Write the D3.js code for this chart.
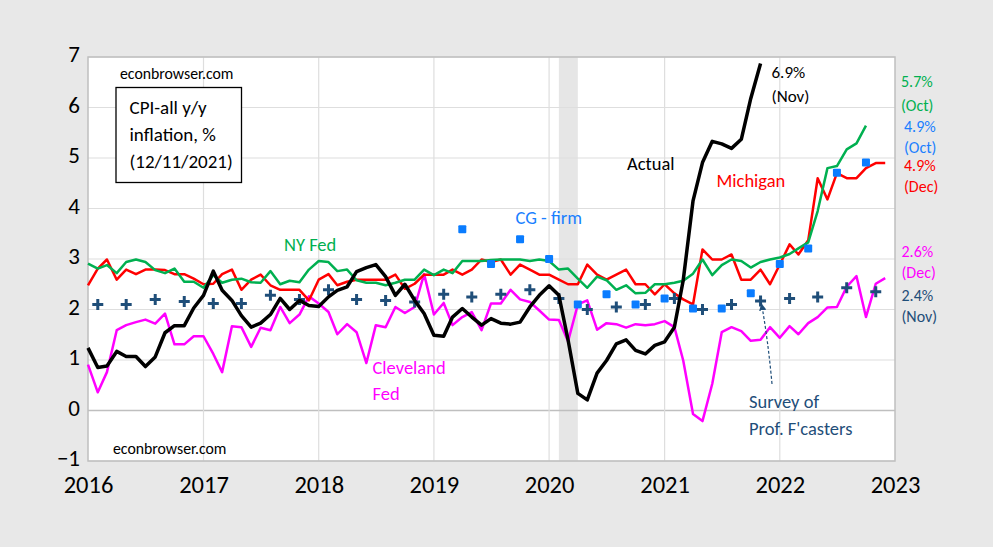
<!DOCTYPE html>
<html><head><meta charset="utf-8">
<script src="https://cdn.jsdelivr.net/npm/d3@7"></script>
<style>
body{margin:0;background:#e8e8e8;}
svg{display:block;font-family:Carlito, Lato, "Open Sans", sans-serif;}
</style>
</head><body>
<svg id="chart" width="993" height="547"></svg>
<script>
// ---- data (monthly, index 0 = Jan 2016) ----
const actual = [1.24,0.85,0.88,1.17,1.07,1.07,0.87,1.06,1.54,1.68,1.68,2.03,
 2.28,2.76,2.38,2.18,1.88,1.65,1.73,1.90,2.22,2.00,2.18,2.08,
 2.06,2.25,2.38,2.45,2.75,2.83,2.89,2.65,2.28,2.50,2.18,1.92,
 1.49,1.47,1.85,2.02,1.85,1.69,1.82,1.73,1.71,1.75,2.05,2.28,
 2.47,2.28,1.40,0.34,0.21,0.74,0.99,1.32,1.40,1.19,1.12,1.29,
 1.36,1.65,2.58,4.15,4.91,5.33,5.28,5.19,5.37,6.18,6.87];
const michigan = [2.48,2.81,2.99,2.59,2.79,2.70,2.79,2.79,2.78,2.70,2.70,2.61,
 2.50,2.51,2.70,2.79,2.39,2.59,2.69,2.48,2.39,2.39,2.39,2.18,
 2.59,2.70,2.48,2.55,2.59,2.59,2.59,2.59,2.69,2.41,2.51,2.69,
 2.69,2.69,2.79,2.69,2.79,2.99,2.94,2.99,2.69,2.89,2.79,2.69,
 2.69,2.59,2.50,2.50,2.89,2.69,2.59,2.69,2.79,2.50,2.50,2.30,
 2.50,2.32,2.20,2.10,3.19,2.99,2.99,3.09,2.59,2.59,2.79,2.50,
 2.89,3.29,3.09,3.37,4.60,4.18,4.70,4.60,4.60,4.80,4.90,4.90];
const nyFed = [2.91,2.81,2.88,2.72,2.94,2.99,2.94,2.78,2.72,2.81,2.55,2.55,
 2.43,2.68,2.53,2.59,2.61,2.54,2.53,2.76,2.50,2.57,2.54,2.79,
 2.96,2.94,2.76,2.79,2.58,2.53,2.53,2.48,2.53,2.59,2.59,2.79,
 2.68,2.79,2.72,2.96,2.96,2.96,2.98,2.99,2.99,2.99,2.96,2.99,
 2.96,2.79,2.81,2.61,2.43,2.65,2.58,2.39,2.48,2.32,2.33,2.50,
 2.50,2.53,2.57,2.71,2.99,2.68,2.88,2.99,2.96,2.83,2.94,2.99,
 3.03,3.10,3.21,3.33,3.95,4.80,4.84,5.17,5.29,5.64];
const cleveland = [0.91,0.36,0.76,1.59,1.69,1.75,1.80,1.72,1.92,1.31,1.31,1.47,
 1.47,1.12,0.76,1.67,1.65,1.26,1.64,1.59,2.05,1.73,1.90,2.26,
 2.12,1.95,1.51,1.71,1.55,0.94,1.69,1.65,2.05,1.93,2.05,2.70,
 1.90,2.13,1.69,1.85,1.95,1.59,2.12,2.12,2.39,2.20,2.15,1.98,
 1.80,1.79,1.37,2.10,2.18,1.60,1.73,1.71,1.64,1.71,1.69,1.71,
 1.77,1.65,0.99,-0.07,-0.21,0.53,1.55,1.65,1.57,1.38,1.40,1.65,
 1.44,1.67,1.51,1.73,1.85,2.04,2.05,2.45,2.66,1.85,2.51,2.62];
const spfMonths = [1,4,7,10,13,16,19,22,25,28,31,34,37,40,43,46,49,52,55,58,61,64,67,70,73,76,79,82];
const spfValues = [2.10,2.10,2.20,2.16,2.12,2.12,2.28,2.20,2.39,2.20,2.18,2.15,2.30,2.25,2.30,2.39,2.22,2.00,2.05,2.10,2.22,2.00,2.10,2.17,2.22,2.25,2.43,2.35];
const cgMonths = [39,42,45,48,51,54,57,60,63,66,69,72,75,78,81];
const cgValues = [3.59,2.90,3.39,3.00,2.10,2.30,2.10,2.22,2.02,2.02,2.32,2.90,3.21,4.71,4.91];
const yearTicks = [2016,2017,2018,2019,2020,2021,2022,2023];
const yTicks = [-1,0,1,2,3,4,5,6,7];
const recession = [new Date(2020,1,1), new Date(2020,3,1)];

const monthDate = i => new Date(2016, i, 1);

const svg = d3.select("#chart");
const L = 88, R = 895, T = 57, B = 461;
const x = d3.scaleTime().domain([new Date(2016,0,1), new Date(2023,0,1)]).range([L, R]);
const y = d3.scaleLinear().domain([-1, 7]).range([B, T]);

// background
svg.append("rect").attr("width",993).attr("height",547).attr("fill","#e8e8e8");
svg.append("rect").attr("x",L).attr("y",T).attr("width",R-L).attr("height",B-T).attr("fill","#fff");

// recession shading
svg.append("rect").attr("x",x(recession[0])).attr("y",T)
  .attr("width",x(recession[1])-x(recession[0])).attr("height",B-T).attr("fill","#e6e6e6");

// gridlines
svg.append("g").selectAll("line").data(yTicks).join("line")
  .attr("x1",L).attr("x2",R).attr("y1",d=>y(d)).attr("y2",d=>y(d))
  .attr("stroke", d => d===0 ? "#bfbfbf" : "#dedede").attr("stroke-width", d=> d===0?1.5:1.2);
svg.append("g").selectAll("line").data(yearTicks.slice(1,-1)).join("line")
  .attr("x1",d=>x(new Date(d,0,1))).attr("x2",d=>x(new Date(d,0,1))).attr("y1",T).attr("y2",B)
  .attr("stroke","#dedede").attr("stroke-width",1.2);
svg.append("rect").attr("x",L).attr("y",T).attr("width",R-L).attr("height",B-T)
  .attr("fill","none").attr("stroke","#bfbfbf").attr("stroke-width",1.5);

// axes labels
const yAxis = d3.axisLeft(y).tickValues(yTicks).tickSize(0).tickPadding(8).tickFormat(d3.format("d"));
const gy = svg.append("g").attr("transform",`translate(${L},-2.5)`).call(yAxis);
gy.select(".domain").remove();
gy.selectAll("text").attr("font-size",23).attr("fill","#000").attr("font-family","Carlito, Lato, sans-serif");

const xAxis = d3.axisBottom(x).tickValues(yearTicks.map(d=>new Date(d,0,1))).tickSize(0).tickPadding(15).tickFormat(d3.timeFormat("%Y"));
const gx = svg.append("g").attr("transform",`translate(0,${B})`).call(xAxis);
gx.select(".domain").remove();
gx.selectAll("text").attr("font-size",24.5).attr("fill","#000").attr("font-family","Carlito, Lato, sans-serif");

// lines
const line = d3.line().x((d,i)=>x(monthDate(i))).y(d=>y(d));
function drawLine(data,color,w){
  svg.append("path").datum(data).attr("d",line).attr("fill","none")
    .attr("stroke",color).attr("stroke-width",w).attr("stroke-linejoin","round");
}
drawLine(cleveland,"#ff00ff",2.5);
drawLine(michigan,"#ff0000",2.5);
drawLine(nyFed,"#00b050",2.5);

// SPF crosses
svg.append("g").selectAll("path").data(spfMonths.map((m,i)=>[m,spfValues[i]])).join("path")
  .attr("d",d=>{const cx=x(monthDate(d[0])), cy=y(d[1]); return `M${cx-5.5},${cy}h11M${cx},${cy-5.5}v11`;})
  .attr("stroke","#1f4e79").attr("stroke-width",3).attr("fill","none");

drawLine(actual,"#000",3.5);

// CG squares
svg.append("g").selectAll("rect").data(cgMonths.map((m,i)=>[m,cgValues[i]])).join("rect")
  .attr("x",d=>x(monthDate(d[0]))-4).attr("y",d=>y(d[1])-4).attr("width",8).attr("height",8)
  .attr("rx",1).attr("fill","#0a7cff");

// annotations
function txt(s,xx,yy,color,size){
  svg.append("text").attr("x",xx).attr("y",yy).attr("fill",color).attr("font-size",size).text(s);
}
txt("econbrowser.com",120,78.5,"#000",15.8);
txt("econbrowser.com",113,453.5,"#000",15.8);
svg.append("rect").attr("x",116).attr("y",87.5).attr("width",125.5).attr("height",95).attr("fill","#fff").attr("stroke","#000").attr("stroke-width",1.3);
txt("CPI-all y/y",129.5,114,"#000",19);
txt("inflation, %",129.5,140.5,"#000",19);
txt("(12/11/2021)",129.5,168,"#000",19);
txt("NY Fed",284,251,"#00b050",18.5);
txt("Cleveland",372.5,373.5,"#ff00ff",18.5);
txt("Fed",372.5,399.5,"#ff00ff",18.5);
txt("CG - firm",515.5,224,"#1a7fff",18.5);
txt("Actual",627,169.5,"#000",18.5);
txt("Michigan",716.5,187,"#ff0000",18.5);
txt("6.9%",771.5,77.5,"#000",17);
txt("(Nov)",771.5,101.5,"#000",17);
txt("5.7%",901,86.5,"#00b050",16);
txt("(Oct)",901,110.5,"#00b050",16);
txt("4.9%",904,132,"#1a7fff",16);
txt("(Oct)",904,153,"#1a7fff",16);
txt("4.9%",904,171,"#ff0000",16);
txt("(Dec)",904,192,"#ff0000",16);
txt("2.6%",901.5,257,"#ff00ff",16);
txt("(Dec)",901.5,278,"#ff00ff",16);
txt("2.4%",901.5,300.5,"#1f4e79",16);
txt("(Nov)",901.5,321.5,"#1f4e79",16);
txt("Survey of",749,408,"#1f4e79",18.5);
txt("Prof. F'casters",749,434.5,"#1f4e79",18.5);

// SPF arrow
const defs = svg.append("defs");
defs.append("marker").attr("id","ah").attr("viewBox","0 0 10 10").attr("refX",9).attr("refY",5)
  .attr("markerWidth",6).attr("markerHeight",6).attr("orient","auto")
  .append("path").attr("d","M0,0L10,5L0,10z").attr("fill","#1f4e79");
const tipX = x(monthDate(70))+1, tipY = y(spfValues[23])+3;
svg.append("path").attr("d",`M772,384 Q768,340 ${tipX},${tipY}`).attr("fill","none")
  .attr("stroke","#1f4e79").attr("stroke-width",1.2).attr("stroke-dasharray","3,2").attr("marker-end","url(#ah)");
</script>
</body></html>
